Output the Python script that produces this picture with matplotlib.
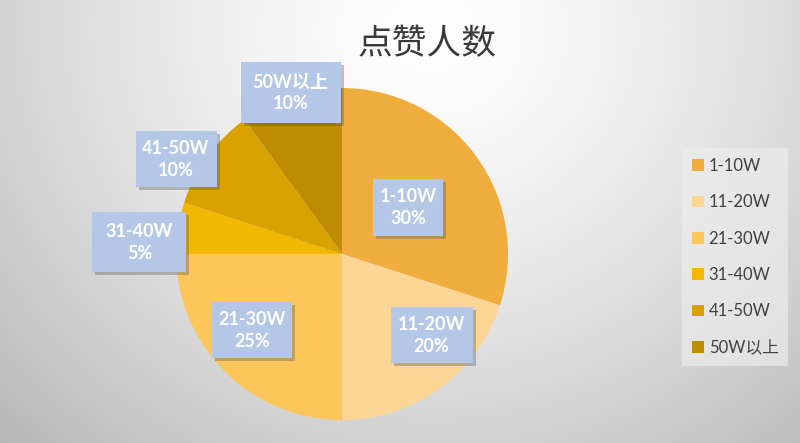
import matplotlib as mpl
mpl.use('Agg')
import matplotlib.pyplot as plt
import numpy as np
from matplotlib.patches import Rectangle, Patch

plt.rcParams['font.family'] = ['Lato', 'Noto Sans CJK SC', 'DejaVu Sans']

########################################
# data

categories = ['1-10W', '11-20W', '21-30W', '31-40W', '41-50W', '50W以上']
shares = [30, 20, 25, 5, 10, 10]
colors = ['#efad3e', '#fdd594', '#fdc65a', '#f2b800', '#d9a200', '#bd8c00']
title = '点赞人数'

# label box centres (in pie radius units) and sizes (px)
box_pos = [(0.40, 0.28), (0.54, -0.49), (-0.54, -0.46), (-1.22, 0.07), (-1.00, 0.57), (-0.31, 0.97)]
box_size = [(70, 57), (82, 56), (80, 56), (94, 60), (81, 56), (100, 61)]

W, H = 800, 443
fig = plt.figure(figsize=(W / 100, H / 100), dpi=100)

########################################
# background gradient

bg = fig.add_axes([0, 0, 1, 1])
yy, xx = np.mgrid[0:H, 0:W]
d = np.sqrt(((xx - 430) / 480.) ** 2 + ((yy - 30) / 450.) ** 2)
g = 1.0 - 0.2 * np.clip(d, 0, 1.3) ** 1.4
bg.imshow(np.dstack([g, g, g]), extent=[0, W, H, 0], aspect='auto')
bg.set_xlim(0, W)
bg.set_ylim(H, 0)
bg.axis('off')

########################################
# pie

cx, cy, r = 342, 254, 166
ax = fig.add_axes([(cx - r) / W, (H - cy - r) / H, 2 * r / W, 2 * r / H])
ax.pie(shares, colors=colors, startangle=90, counterclock=False, radius=1,
       wedgeprops=dict(linewidth=0))
ax.set_xlim(-1, 1)
ax.set_ylim(-1, 1)
ax.set_aspect('auto')
ax.axis('off')

for cat, val, (bx, by), (bw, bh) in zip(categories, shares, box_pos, box_size):
    w, h = bw / r, bh / r
    ax.add_patch(Rectangle((bx - w / 2 + 3. / r, by - h / 2 - 3. / r), w, h,
                           facecolor='#555555', alpha=0.35, lw=0, clip_on=False, zorder=5))
    ax.add_patch(Rectangle((bx - w / 2, by - h / 2), w, h,
                           facecolor='#b4c7e7', lw=0, clip_on=False, zorder=6))
    ax.text(bx, by, '%s\n%d%%' % (cat, val), ha='center', va='center', color='white',
            fontsize=13, fontweight='bold', linespacing=1.35, zorder=7)

########################################
# title + legend

fig.text(427 / W, 1 - 45 / H, title, ha='center', va='center', fontsize=25,
         color='#3a3a3a', family=['Noto Sans CJK SC'])

handles = [Patch(facecolor=c, edgecolor='none') for c in colors]
leg = fig.legend(handles, categories, loc='upper left', bbox_to_anchor=(682 / W, 1 - 148 / H),
                 frameon=True, fontsize=12, labelspacing=1.22, handlelength=0.7,
                 handleheight=0.7, handletextpad=0.3, borderpad=0.6, borderaxespad=0)
leg.get_frame().set_facecolor('#ececec')
leg.get_frame().set_edgecolor('none')
leg.get_frame().set_alpha(0.7)
leg.get_frame().set_boxstyle('square', pad=0)
for t in leg.get_texts():
    t.set_color('#404040')

fig.savefig('out.png', dpi=100)
